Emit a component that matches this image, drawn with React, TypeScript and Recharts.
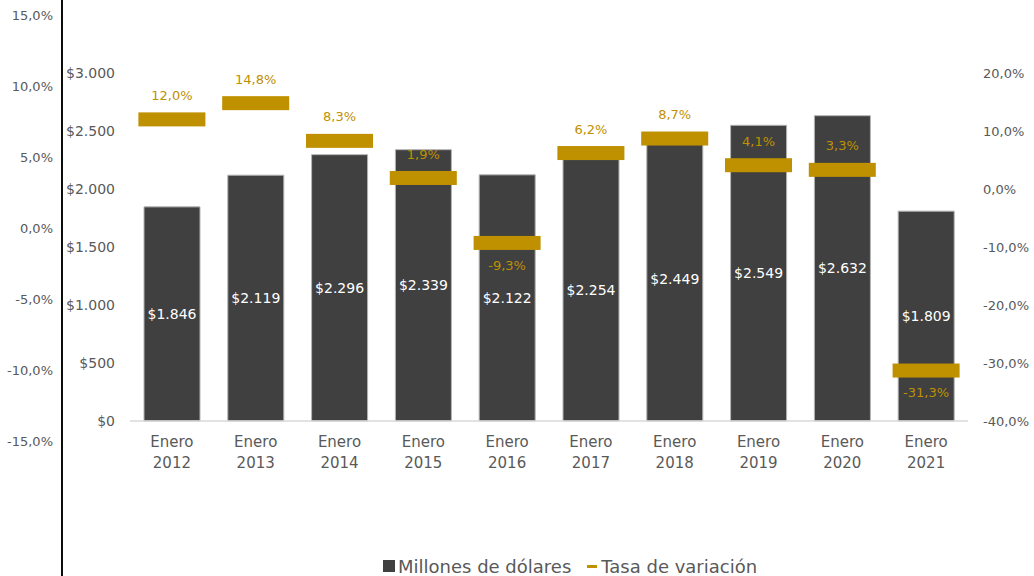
import React from "react"
import {
  ComposedChart,
  Bar,
  Line,
  XAxis,
  YAxis,
  LabelList,
  Legend,
} from "recharts"

// Valores
const years = ["2012", "2013", "2014", "2015", "2016", "2017", "2018", "2019", "2020", "2021"]
const millones = [1846, 2119, 2296, 2339, 2122, 2254, 2449, 2549, 2632, 1809]
const tasa = [12.0, 14.8, 8.3, 1.9, -9.3, 6.2, 8.7, 4.1, 3.3, -31.3]

const usdTicks = [0, 500, 1000, 1500, 2000, 2500, 3000]
const pctTicks = [-40, -30, -20, -10, 0, 10, 20]
const strayTicks = [-15, -10, -5, 0, 5, 10, 15]

const data = years.map((y, i) => ({
  year: y,
  millones: millones[i],
  tasa: tasa[i],
}))

const FONT = "'DejaVu Sans', sans-serif"
const GRAY = "#595959"
const GOLD = "#bf9000"
const BAR = "#404040"

const fmtPct = (v: number) => `${v.toFixed(1).replace(".", ",")}%`
const fmtUsd = (v: number) => `$${v.toLocaleString("de-DE")}`

function YearTick(props: any) {
  const { x, y, payload } = props
  return (
    <text x={x} y={y} textAnchor="middle" fill={GRAY} fontSize={15} fontFamily={FONT}>
      <tspan x={x} dy={18}>Enero</tspan>
      <tspan x={x} dy={21}>{payload.value}</tspan>
    </text>
  )
}

function Marker(props: any) {
  const { cx, cy } = props
  if (cx == null || cy == null) return null
  return <rect x={cx - 33.5} y={cy - 7} width={67} height={14} fill={GOLD} />
}

function TasaLabel(props: any) {
  const { x, y, value } = props
  const above = value >= 0
  return (
    <text
      x={x}
      y={above ? y - 24 : y + 22}
      dy="0.355em"
      textAnchor="middle"
      fill={GOLD}
      fontSize={13}
      fontFamily={FONT}
    >
      {fmtPct(value)}
    </text>
  )
}

function LegendContent() {
  return (
    <div
      style={{
        display: "flex",
        alignItems: "center",
        height: 20,
        fontFamily: FONT,
        fontSize: 18,
        color: GRAY,
        whiteSpace: "nowrap",
      }}
    >
      <span style={{ width: 12, height: 12, background: BAR, display: "inline-block", marginRight: 3 }} />
      <span>Millones de dólares</span>
      <span
        style={{ width: 10, height: 3, background: GOLD, display: "inline-block", marginLeft: 16, marginRight: 4 }}
      />
      <span>Tasa de variación</span>
    </div>
  )
}

export default function App() {
  return (
    <div style={{ position: "absolute", left: 0, top: 0, width: 1034, height: 576, background: "#fff" }}>
      <ComposedChart
        width={1034}
        height={576}
        data={data}
        margin={{ top: 73, right: 10, bottom: 0, left: 70 }}
      >
        <XAxis
          dataKey="year"
          height={135}
          tickLine={false}
          axisLine={{ stroke: "#d9d9d9", strokeWidth: 1.5 }}
          tick={<YearTick />}
          interval={0}
        />
        <YAxis
          yAxisId="usd"
          width={60}
          domain={[0, 3000]}
          ticks={usdTicks}
          tickFormatter={fmtUsd}
          axisLine={false}
          tickLine={false}
          tickSize={0}
          tickMargin={15}
          tick={{ fill: GRAY, fontSize: 14, fontFamily: FONT }}
        />
        <YAxis
          yAxisId="pct"
          orientation="right"
          width={56}
          domain={[-40, 20]}
          ticks={pctTicks}
          tickFormatter={fmtPct}
          axisLine={false}
          tickLine={false}
          tickSize={0}
          tickMargin={15}
          tick={{ fill: GRAY, fontSize: 13, fontFamily: FONT, textAnchor: "start" }}
        />
        <Legend verticalAlign="bottom" wrapperStyle={{ left: 383, width: "auto" }} content={<LegendContent />} />
        <Bar
          yAxisId="usd"
          dataKey="millones"
          name="Millones de dólares"
          fill={BAR}
          stroke="#b3b3b3"
          strokeWidth={1}
          barSize={56}
          isAnimationActive={false}
        >
          <LabelList
            dataKey="millones"
            position="center"
            formatter={(v: any) => fmtUsd(Number(v))}
            fill="#ffffff"
            fontSize={14}
            fontFamily={FONT}
          />
        </Bar>
        <Line
          yAxisId="pct"
          dataKey="tasa"
          name="Tasa de variación"
          stroke="none"
          dot={<Marker />}
          activeDot={false}
          isAnimationActive={false}
        >
          <LabelList dataKey="tasa" content={<TasaLabel />} />
        </Line>
      </ComposedChart>

      {/* eje suelto a la izquierda */}
      <div style={{ position: "absolute", left: 0, top: 0, pointerEvents: "none" }}>
        <ComposedChart width={1034} height={576} data={data} margin={{ top: 0, right: 0, bottom: 0, left: 0 }}>
          <XAxis dataKey="year" hide />
          <YAxis
            width={62}
            domain={[-24.5, 16.06]}
            allowDataOverflow
            ticks={strayTicks}
            tickFormatter={fmtPct}
            axisLine={{ stroke: "#0d0d0d", strokeWidth: 2 }}
            tickLine={false}
            tickSize={0}
            tickMargin={9}
            tick={{ fill: GRAY, fontSize: 13, fontFamily: FONT }}
          />
          <Line dataKey="tasa" stroke="none" dot={false} activeDot={false} isAnimationActive={false} />
        </ComposedChart>
      </div>
    </div>
  )
}
